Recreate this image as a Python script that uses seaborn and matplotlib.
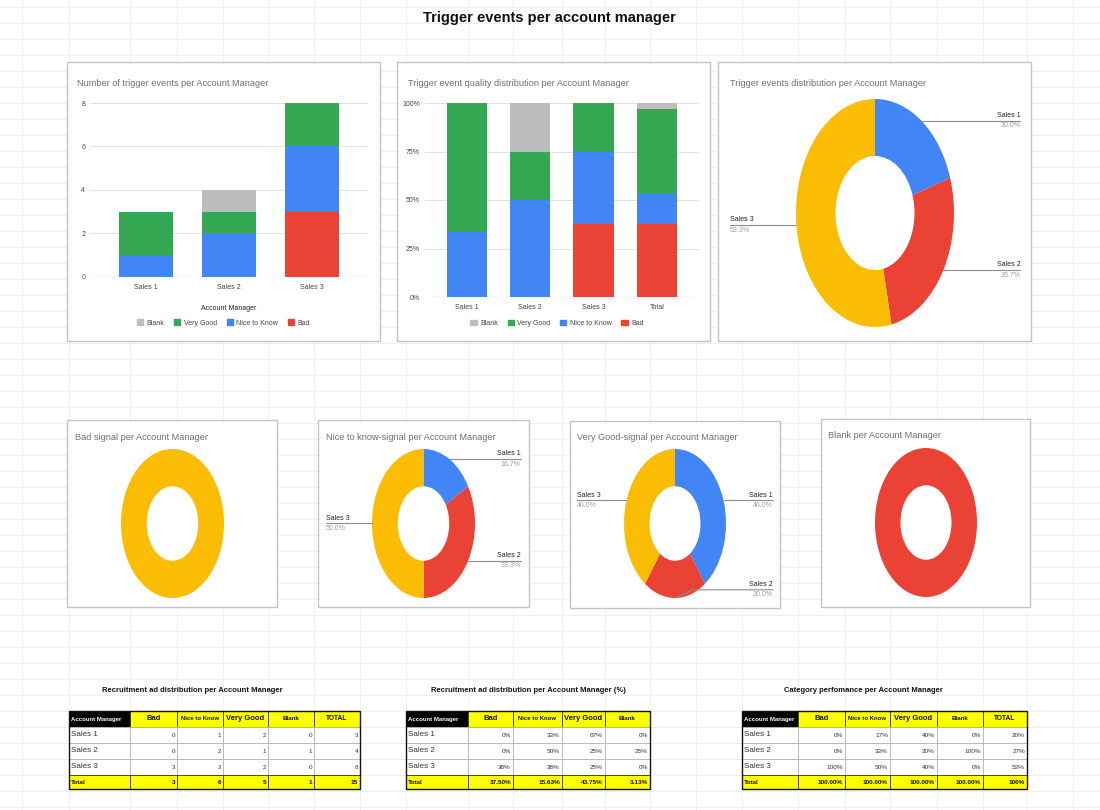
import numpy as np
import pandas as pd
import seaborn as sns
import matplotlib.pyplot as plt
import matplotlib.patches as mpatches

# Data
managers = ["Sales 1", "Sales 2", "Sales 3"]
categories = ["Bad", "Nice to Know", "Very Good", "Blank"]
bad = [0, 0, 3]
nice_to_know = [1, 2, 3]
very_good = [2, 1, 2]
blank = [0, 1, 0]
# "Total" row of the percentage table (as shown in the sheet)
pct_total = [37.50, 15.63, 43.75, 3.13]

cat_colors = {"Bad": "#EA4335", "Nice to Know": "#4285F4",
              "Very Good": "#34A853", "Blank": "#BDBDBD"}
manager_colors = ["#4285F4", "#EA4335", "#FBBC04"]

sns.set_style("white")
plt.rcParams['font.family'] = ['Liberation Sans', 'DejaVu Sans']

W, H = 1100, 810
fig = plt.figure(figsize=(11, 8.1), dpi=100)


def px(x0, y0, x1, y1):
    return [x0 / W, 1 - y1 / H, (x1 - x0) / W, (y1 - y0) / H]


counts = pd.DataFrame({"Bad": bad, "Nice to Know": nice_to_know,
                       "Very Good": very_good, "Blank": blank}, index=managers)

# background "spreadsheet" layer in pixel coordinates
bg = fig.add_axes([0, 0, 1, 1])
bg.set_xlim(0, W)
bg.set_ylim(H, 0)
bg.axis('off')
for y in np.arange(7, H, 16):
    bg.axhline(y, color='#ebebeb', lw=0.6, zorder=0)
for x in [22, 69, 130, 177, 223, 268, 314, 360, 406, 468, 513, 562, 605, 650,
          696, 742, 798, 845, 890, 937, 983, 1027, 1073]:
    bg.axvline(x, color='#efefef', lw=0.6, zorder=0)

bg.text(549, 18, "Trigger events per account manager", ha='center', va='center',
        fontsize=10.5, fontweight='bold', color='#111111')

cards = [(67, 62, 380, 341), (397, 62, 710, 341), (718, 62, 1031, 341),
         (67, 420, 277, 607), (318, 420, 529, 607), (570, 421, 780, 608), (821, 419, 1030, 607)]
titles = [(77, 83, "Number of trigger events per Account Manager"),
          (408, 83, "Trigger event quality distribution per Account Manager"),
          (730, 83, "Trigger events distribution per Account Manager"),
          (75, 437, "Bad signal per Account Manager"),
          (326, 437, "Nice to know-signal per Account Manager"),
          (577, 437, "Very Good-signal per Account Manager"),
          (828, 436, "Blank per Account Manager")]
for (x0, y0, x1, y1) in cards:
    bg.add_patch(mpatches.Rectangle((x0, y0), x1 - x0, y1 - y0, facecolor='white',
                                    edgecolor='#c4c4c4', lw=1.0, zorder=1))
for (x, y, t) in titles:
    bg.text(x, y, t, ha='left', va='center', fontsize=6.6, color='#6f6f6f', zorder=2)


def stacked_bars(ax, table, width):
    cum = table.cumsum(axis=1)
    labels = list(table.index)
    for cat in reversed(categories):
        sns.barplot(x=labels, y=cum[cat].values, color=cat_colors[cat], width=width,
                    saturation=1, linewidth=0, errorbar=None, ax=ax, zorder=2)
    ax.yaxis.grid(True, color='#e2e2e2', lw=0.7)
    ax.set_axisbelow(True)
    ax.axhline(0, color='#a0a0a0', lw=0.8, zorder=3)
    sns.despine(ax=ax, left=True, bottom=True)
    ax.tick_params(length=0, labelsize=5, labelcolor='#444444')
    ax.tick_params(axis='x', pad=5)
    ax.set_facecolor('white')


def bar_legend(ax, y):
    handles = [mpatches.Patch(color=cat_colors[c], label=c) for c in reversed(categories)]
    ax.legend(handles=handles, loc='center', bbox_to_anchor=(0.48, y), ncol=4,
              frameon=False, fontsize=5, handlelength=0.9, handleheight=0.9,
              handletextpad=0.5, columnspacing=1.4, labelcolor='#444444')


# chart 1: number of trigger events
ax1 = fig.add_axes(px(90, 103, 368, 277))
stacked_bars(ax1, counts, 0.65)
ax1.set_xlim(-0.67, 2.67)
ax1.set_ylim(0, 8)
ax1.set_yticks([0, 2, 4, 6, 8])
ax1.set_xlabel("Account Manager", fontsize=5, color='#222222', labelpad=10)
bar_legend(ax1, -0.265)

# chart 2: quality distribution (100 %)
share = counts.div(counts.sum(axis=1), axis=0) * 100
share.loc["Total"] = pct_total
ax2 = fig.add_axes(px(425, 103, 700, 297))
stacked_bars(ax2, share, 0.64)
ax2.set_xlim(-0.66, 3.68)
ax2.set_ylim(0, 100)
ax2.set_yticks([0, 25, 50, 75, 100])
ax2.set_yticklabels([f"{v}%" for v in [0, 25, 50, 75, 100]])
bar_legend(ax2, -0.135)


def donut(cx, cy, rx, ry, values, dx=1.88):
    ax = fig.add_axes(px(cx - rx, cy - ry, cx + rx, cy + ry))
    wedges, _ = ax.pie(values, colors=manager_colors, startangle=90, counterclock=False,
                       wedgeprops=dict(width=0.5, linewidth=0))
    ax.set_aspect('auto')
    ax.set_xlim(-1, 1)
    ax.set_ylim(-1, 1)
    total = sum(values)
    if sum(v > 0 for v in values) < 2:
        return
    for w, name, v in zip(wedges, managers, values):
        if v == 0:
            continue
        ang = np.deg2rad((w.theta1 + w.theta2) / 2)
        x, y = np.cos(ang), np.sin(ang)
        side = 1 if x > -0.01 else -1
        yl = np.clip(y, -0.89, 0.89)
        if yl != y:
            xs, ys = [x, x + side * 0.35, side * dx], [y, yl, yl]
        else:
            xs, ys = [x, side * dx], [y, y]
        ax.plot(xs, ys, color='#8c8c8c', lw=0.8, clip_on=False)
        ha = 'right' if side > 0 else 'left'
        ax.annotate(name, (side * dx, yl), xytext=(0, 1.2), textcoords='offset points',
                    ha=ha, va='bottom', fontsize=5, color='#222222', annotation_clip=False)
        ax.annotate(f"{v / total * 100:.1f}%", (side * dx, yl), xytext=(0, -1.2),
                    textcoords='offset points', ha=ha, va='top', fontsize=5,
                    color='#9e9e9e', annotation_clip=False)


donut(875, 213, 79, 114, counts.sum(axis=1).tolist(), dx=1.84)
donut(172.5, 523.5, 51.5, 74.5, bad)
donut(423.5, 523.5, 51.5, 74.5, nice_to_know, dx=1.89)
donut(675, 523.5, 51, 74.5, very_good, dx=1.92)
donut(926, 522.5, 51, 74.5, blank)


# tables
def draw_table(title, tcx, cols, header, rows, total_row, head_sizes):
    bg.text(tcx, 690, title, ha='center', va='center', fontsize=5.5,
            fontweight='bold', color='#111111')
    ys = [711, 727, 743, 759, 775, 789]
    for j, h in enumerate(header):
        x0, x1 = cols[j], cols[j + 1]
        fc = 'black' if j == 0 else '#FFFF00'
        bg.add_patch(mpatches.Rectangle((x0, ys[0]), x1 - x0, ys[1] - ys[0], facecolor=fc,
                                        edgecolor='#333333', lw=0.6, zorder=3))
        if j == 0:
            bg.text(x0 + 2, (ys[0] + ys[1]) / 2, h, ha='left', va='center', fontsize=4.3,
                    fontweight='bold', color='white', zorder=4)
        else:
            bg.text((x0 + x1) / 2, (ys[0] + ys[1]) / 2, h, ha='center', va='center',
                    fontsize=head_sizes[j], fontweight='bold', color='#111111', zorder=4)
    for i, row in enumerate(rows):
        y0, y1 = ys[i + 1], ys[i + 2]
        for j, val in enumerate(row):
            x0, x1 = cols[j], cols[j + 1]
            bg.add_patch(mpatches.Rectangle((x0, y0), x1 - x0, y1 - y0, facecolor='white',
                                            edgecolor='#b5b5b5', lw=0.6, zorder=3))
            if j == 0:
                bg.text(x0 + 2, (y0 + y1) / 2, val, ha='left', va='center', fontsize=5.8,
                        color='#333333', zorder=4)
            else:
                bg.text(x1 - 2, (y0 + y1) / 2 + 0.5, val, ha='right', va='center',
                        fontsize=4.6, color='#333333', zorder=4)
    y0, y1 = ys[4], ys[5]
    for j, val in enumerate(total_row):
        x0, x1 = cols[j], cols[j + 1]
        bg.add_patch(mpatches.Rectangle((x0, y0), x1 - x0, y1 - y0, facecolor='#FFFF00',
                                        edgecolor='#333333', lw=0.6, zorder=3))
        if j == 0:
            bg.text(x0 + 2, (y0 + y1) / 2, val, ha='left', va='center', fontsize=4.6,
                    fontweight='bold', color='#111111', zorder=4)
        else:
            bg.text(x1 - 2, (y0 + y1) / 2, val, ha='right', va='center', fontsize=4.6,
                    fontweight='bold', color='#111111', zorder=4)
    bg.add_patch(mpatches.Rectangle((cols[0], ys[0]), cols[-1] - cols[0], ys[-1] - ys[0],
                                    fill=False, edgecolor='#111111', lw=1.0, zorder=5))


tot_row = counts.sum(axis=1)
header1 = ["Account Manager", "Bad", "Nice to Know", "Very Good", "Blank", "TOTAL"]
sizes1 = [4.3, 5.5, 4.3, 5.5, 4.5, 4.8]

rows1 = [[m] + [str(counts.loc[m, c]) for c in categories] + [str(tot_row[m])] for m in managers]
total1 = ["Total"] + [str(counts[c].sum()) for c in categories] + [str(tot_row.sum())]
draw_table("Recruitment ad distribution per Account Manager", 192,
           [69, 130, 177, 223, 268, 314, 360], header1, rows1, total1, sizes1)

rows2 = [[m] + [f"{share.loc[m, c]:.0f}%" for c in categories] for m in managers]
total2 = ["Total"] + [f"{v:.2f}%" for v in pct_total]
draw_table("Recruitment ad distribution per Account Manager (%)", 528,
           [406, 468, 513, 562, 605, 650], header1[:5], rows2, total2, sizes1[:5])

perf = counts.div(counts.sum(axis=0), axis=1) * 100
perf_tot = tot_row / tot_row.sum() * 100
rows3 = [[m] + [f"{perf.loc[m, c]:.0f}%" for c in categories] + [f"{perf_tot[m]:.0f}%"]
         for m in managers]
total3 = ["Total"] + [f"{perf[c].sum():.2f}%" for c in categories] + [f"{perf_tot.sum():.0f}%"]
draw_table("Category perfomance per Account Manager", 863,
           [742, 798, 845, 890, 937, 983, 1027], header1, rows3, total3, sizes1)

fig.savefig("out.png", dpi=100, facecolor='white')
